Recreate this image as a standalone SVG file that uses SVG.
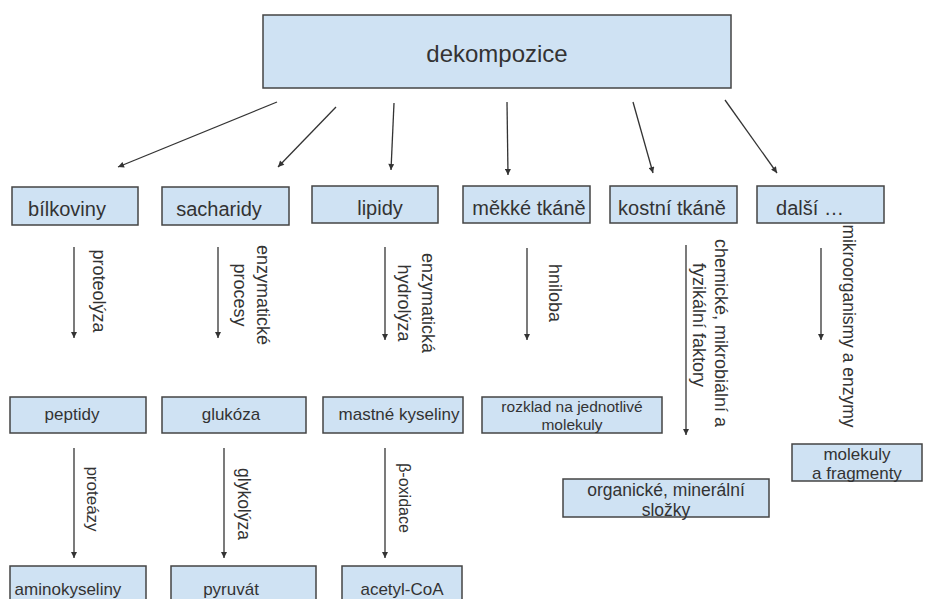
<svg xmlns="http://www.w3.org/2000/svg" width="926" height="599" viewBox="0 0 926 599">
<defs>
<marker id="ah" viewBox="0 0 10 10" refX="10" refY="5" markerWidth="7" markerHeight="6" markerUnits="userSpaceOnUse" orient="auto">
<path d="M0,0 L10,5 L0,10 z" fill="#333"/>
</marker>
<style>
.box{fill:#cfe2f3;stroke:#444;stroke-width:1.5}
text{font-family:"Liberation Sans",Arial,sans-serif;fill:#333}
.t2{font-size:20px;text-anchor:middle}
.t3{font-size:17px;text-anchor:middle}
.lab{font-size:18px;text-anchor:middle}
.con line{stroke:#333;stroke-width:1.3;marker-end:url(#ah)}
</style>
</defs>
<rect width="926" height="599" fill="#fff"/>
<g id="dekompozice"><rect class="box" x="263" y="15" width="468" height="73"/><text x="497" y="62" style="font-size:24px;text-anchor:middle">dekompozice</text></g>
<g id="bilkoviny"><rect class="box" x="12" y="187" width="126" height="38"/><text class="t2" x="67" y="216">bílkoviny</text></g>
<g id="sacharidy"><rect class="box" x="162" y="187" width="127" height="38"/><text class="t2" x="219" y="216">sacharidy</text></g>
<g id="lipidy"><rect class="box" x="312" y="186" width="126" height="37"/><text class="t2" x="380" y="215">lipidy</text></g>
<g id="mekke"><rect class="box" x="463" y="186" width="127" height="37"/><text class="t2" x="529" y="215">měkké tkáně</text></g>
<g id="kostni"><rect class="box" x="610" y="186" width="127" height="37"/><text class="t2" x="672" y="215">kostní tkáně</text></g>
<g id="dalsi"><rect class="box" x="757" y="186" width="127" height="37"/><text class="t2" x="810" y="215">další …</text></g>
<g id="peptidy"><rect class="box" x="10" y="397" width="136" height="36"/><text class="t3" x="72" y="420">peptidy</text></g>
<g id="glukoza"><rect class="box" x="162" y="397" width="144" height="36"/><text class="t3" x="231" y="420">glukóza</text></g>
<g id="mastne"><rect class="box" x="323" y="397" width="140" height="36"/><text class="t3" x="399" y="420">mastné kyseliny</text></g>
<g id="rozklad"><rect class="box" x="482" y="397" width="180" height="36"/><text x="572" y="412" style="font-size:15.5px;text-anchor:middle">rozklad na jednotlivé</text><text x="572" y="430" style="font-size:15.5px;text-anchor:middle">molekuly</text></g>
<g id="molekuly"><rect class="box" x="792" y="444" width="130" height="37"/><text class="t3" x="857" y="460">molekuly</text><text class="t3" x="857" y="479">a fragmenty</text></g>
<g id="organicke"><rect class="box" x="563" y="479" width="206" height="38"/><text x="666" y="496" style="font-size:17.5px;text-anchor:middle">organické, minerální</text><text x="666" y="516" style="font-size:17.5px;text-anchor:middle">složky</text></g>
<g id="aminokyseliny"><rect class="box" x="10" y="566" width="136" height="50"/><text class="t3" x="68" y="595">aminokyseliny</text></g>
<g id="pyruvat"><rect class="box" x="171" y="566" width="145" height="50"/><text class="t3" x="231" y="595">pyruvát</text></g>
<g id="acetyl"><rect class="box" x="342" y="566" width="120" height="50"/><text class="t3" x="402" y="595">acetyl-CoA</text></g>
<g class="con" id="connectors">
<line x1="277" y1="102" x2="118" y2="167"/>
<line x1="336" y1="107" x2="278" y2="167"/>
<line x1="394" y1="103" x2="391" y2="170"/>
<line x1="507" y1="102" x2="508" y2="175"/>
<line x1="633" y1="102" x2="653" y2="173"/>
<line x1="725" y1="100" x2="777" y2="173"/>
<line x1="74" y1="247" x2="74" y2="338"/>
<line x1="218" y1="247" x2="218" y2="338"/>
<line x1="385" y1="247" x2="385" y2="340"/>
<line x1="527" y1="248" x2="527" y2="340"/>
<line x1="686" y1="245" x2="686" y2="435"/>
<line x1="821" y1="248" x2="821" y2="340"/>
<line x1="74" y1="448" x2="74" y2="558"/>
<line x1="224" y1="448" x2="224" y2="558"/>
<line x1="385" y1="448" x2="385" y2="558"/>
</g>
<g id="labels">
<text class="lab" transform="translate(93,291) rotate(90)">proteolýza</text>
<text class="lab" transform="translate(257,295) rotate(90)">enzymatické</text>
<text class="lab" transform="translate(234,295) rotate(90)">procesy</text>
<text class="lab" transform="translate(422,303) rotate(90)">enzymatická</text>
<text class="lab" transform="translate(398,303) rotate(90)">hydrolýza</text>
<text class="lab" transform="translate(549,293) rotate(90)">hniloba</text>
<text class="lab" transform="translate(715,333) rotate(90)">chemické, mikrobiální a</text>
<text class="lab" transform="translate(693,325) rotate(90)">fyzikální  faktory</text>
<text class="lab" style="font-size:17.5px" transform="translate(843,326) rotate(90)">mikroorganismy a enzymy</text>
<text class="lab" style="font-size:17px" transform="translate(87,499) rotate(90)">proteázy</text>
<text class="lab" style="font-size:17.5px" transform="translate(238,504) rotate(90)">glykolýza</text>
<text class="lab" style="font-size:16px" transform="translate(399,498) rotate(90)">β-oxidace</text>
</g>
</svg>
